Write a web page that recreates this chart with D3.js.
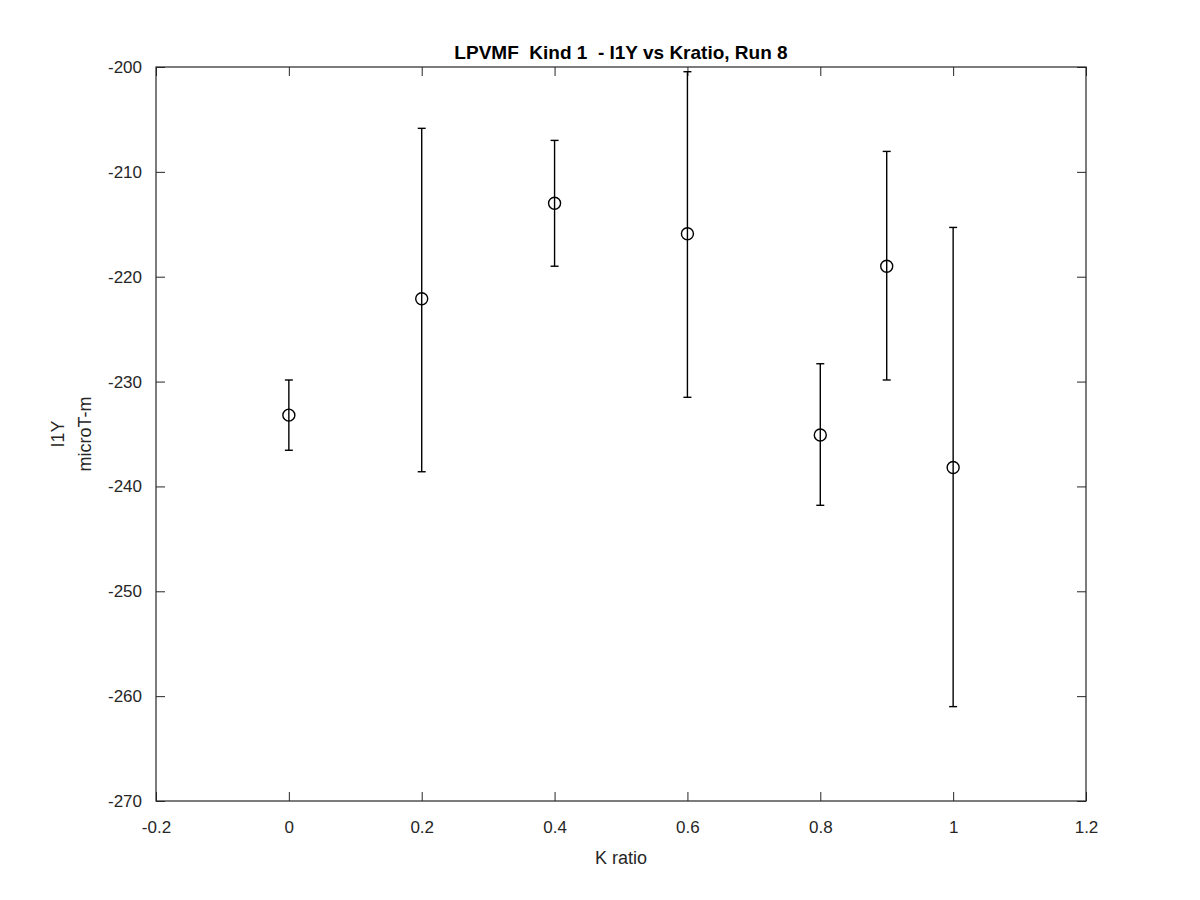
<!DOCTYPE html>
<html>
  <head>
    <meta charset="utf-8">
    <script src="https://d3js.org/d3.v7.min.js"></script>
    <title>LPVMF Kind 1</title>
    <style>
      body { margin: 0px; background: #fff; }
      text { font-family: Arial, "Liberation Sans", Helvetica, sans-serif; fill: #262626; }
      .tick text { font-size: 17px; }
      .domain { display: none; }
      .tick line { stroke: #262626; }
      .title { white-space: pre; }
    </style>
  </head>
  <body>
    <svg width="1200" height="900"></svg>
    <script>
      // values
      const kRatio = [0, 0.2, 0.4, 0.6, 0.8, 0.9, 1.0];
      const i1y    = [-233.2, -222.1, -213.0, -215.9, -235.1, -219.0, -238.2];
      const upper  = [-229.85, -205.85, -207.0, -200.45, -228.3, -208.05, -215.3];
      const lower  = [-236.55, -238.6, -219.0, -231.5, -241.8, -229.85, -261.0];
      const xTicks = [-0.2, 0, 0.2, 0.4, 0.6, 0.8, 1, 1.2];
      const yTicks = [-270, -260, -250, -240, -230, -220, -210, -200];

      const margin = { left: 156, right: 114, top: 67, bottom: 99 };
      const svg = d3.select('svg');
      const width = +svg.attr('width');
      const height = +svg.attr('height');
      const innerWidth = width - margin.left - margin.right;
      const innerHeight = height - margin.top - margin.bottom;

      const g = svg.append('g')
          .attr('transform', `translate(${margin.left},${margin.top})`);

      const xScale = d3.scaleLinear().domain([-0.2, 1.2]).range([0, innerWidth]);
      const yScale = d3.scaleLinear().domain([-270, -200]).range([innerHeight, 0]);

      const fmt = d => String(d);

      // inward ticks, on all four sides
      g.append('g')
          .attr('transform', `translate(0,${innerHeight})`)
          .call(d3.axisBottom(xScale).tickValues(xTicks).tickFormat(fmt).tickSize(-9).tickPadding(20));
      g.append('g')
          .call(d3.axisTop(xScale).tickValues(xTicks).tickFormat('').tickSize(-9))
          .selectAll('text').remove();
      g.append('g')
          .call(d3.axisLeft(yScale).tickValues(yTicks).tickFormat(fmt).tickSize(-9).tickPadding(14));
      g.append('g')
          .attr('transform', `translate(${innerWidth},0)`)
          .call(d3.axisRight(yScale).tickValues(yTicks).tickFormat('').tickSize(-9))
          .selectAll('text').remove();

      g.append('rect')
          .attr('width', innerWidth)
          .attr('height', innerHeight)
          .attr('fill', 'none')
          .attr('stroke', '#262626')
          .attr('stroke-width', 1.2);

      const data = kRatio.map((k, i) => ({ k: k, y: i1y[i], hi: upper[i], lo: lower[i] }));

      const bars = g.append('g').selectAll('g').data(data).enter().append('g');
      bars.append('line')
          .attr('x1', d => xScale(d.k)).attr('x2', d => xScale(d.k))
          .attr('y1', d => yScale(d.hi)).attr('y2', d => yScale(d.lo))
          .attr('stroke', '#000').attr('stroke-width', 1.4);
      bars.append('line')
          .attr('x1', d => xScale(d.k) - 4).attr('x2', d => xScale(d.k) + 4)
          .attr('y1', d => yScale(d.hi)).attr('y2', d => yScale(d.hi))
          .attr('stroke', '#000').attr('stroke-width', 1.4);
      bars.append('line')
          .attr('x1', d => xScale(d.k) - 4).attr('x2', d => xScale(d.k) + 4)
          .attr('y1', d => yScale(d.lo)).attr('y2', d => yScale(d.lo))
          .attr('stroke', '#000').attr('stroke-width', 1.4);
      bars.append('circle')
          .attr('cx', d => xScale(d.k))
          .attr('cy', d => yScale(d.y))
          .attr('r', 6)
          .attr('fill', 'none')
          .attr('stroke', '#000')
          .attr('stroke-width', 1.4);

      svg.append('text')
          .attr('class', 'title')
          .attr('x', margin.left + innerWidth / 2)
          .attr('y', 59)
          .attr('text-anchor', 'middle')
          .style('font-size', '19px')
          .style('font-weight', 'bold')
          .style('fill', '#000')
          .text('LPVMF  Kind 1  - I1Y vs Kratio, Run 8');

      svg.append('text')
          .attr('x', margin.left + innerWidth / 2)
          .attr('y', 864)
          .attr('text-anchor', 'middle')
          .style('font-size', '18px')
          .text('K ratio');

      const yl = svg.append('text')
          .attr('transform', `translate(64,${margin.top + innerHeight / 2}) rotate(-90)`)
          .attr('text-anchor', 'middle')
          .style('font-size', '18px');
      yl.append('tspan').attr('x', 0).attr('dy', 0).text('I1Y');
      yl.append('tspan').attr('x', 0).attr('dy', 27).text('microT-m');
    </script>
  </body>
</html>
